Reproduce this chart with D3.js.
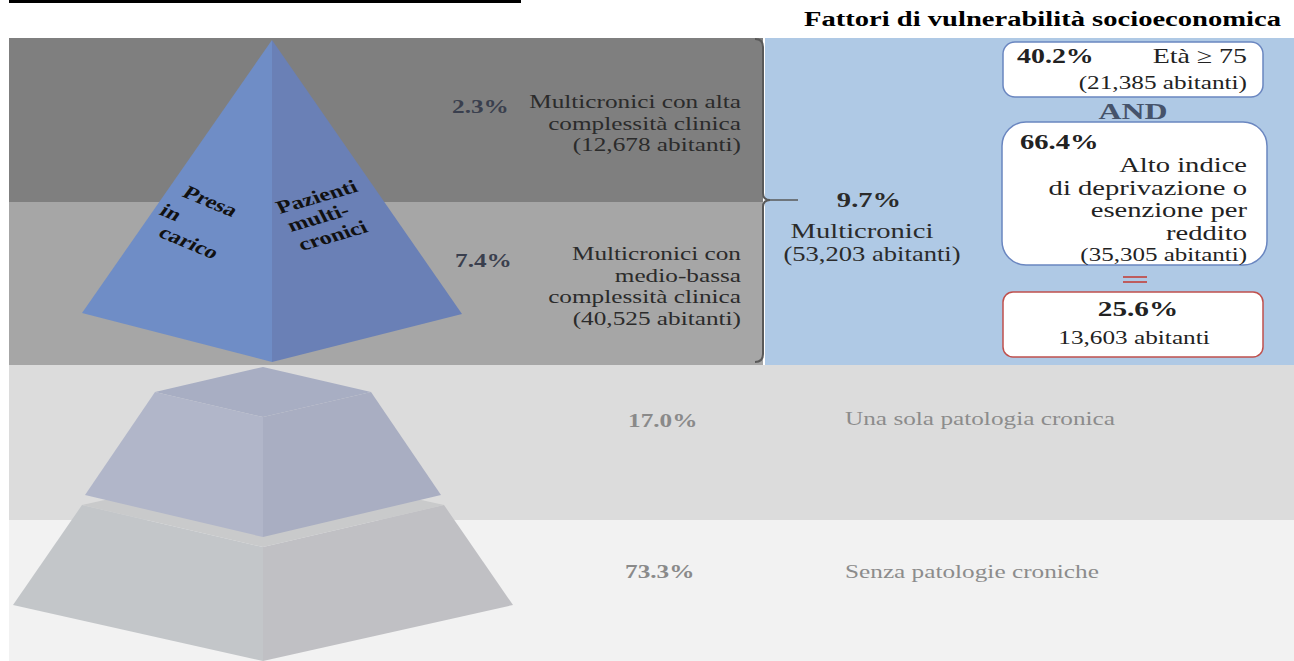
<!DOCTYPE html>
<html>
<head>
<meta charset="utf-8">
<script src="https://cdn.jsdelivr.net/npm/d3@7"></script>
<style>
  body { margin: 0; background: #fff; }
  svg { display: block; font-family: "Liberation Serif", "Times New Roman", serif; }
</style>
</head>
<body>
<div class="canvas"></div>
<script>
// data
const tiers = ["alta", "medioBassa", "una", "senza"];
const tierPct = ["2.3%", "7.4%", "17.0%", "73.3%"];
const tierLabels = [
  ["Multicronici con alta", "complessità clinica", "(12,678 abitanti)"],
  ["Multicronici con", "medio-bassa", "complessità clinica", "(40,525 abitanti)"],
  ["Una sola patologia cronica"],
  ["Senza patologie croniche"]
];
const multiPct = "9.7%";
const multiLabel = ["Multicronici", "(53,203 abitanti)"];
const factorTitle = "Fattori di vulnerabilità socioeconomica";
const factorAge = { pct: "40.2%", label: "Età ≥ 75", count: "(21,385 abitanti)" };
const factorDep = { pct: "66.4%", lines: ["Alto indice", "di deprivazione o", "esenzione per", "reddito"], count: "(35,305 abitanti)" };
const factorBoth = { pct: "25.6%", count: "13,603 abitanti" };
const pyramidLeft = ["Presa", "in", "carico"];
const pyramidRight = ["Pazienti", "multi-", "cronici"];

const W = 1294, H = 661;
const K = 1.33; // horizontal stretch of the original picture
const svg = d3.select(".canvas").append("svg").attr("width", W).attr("height", H);

// layout: band edges for each tier
const bandEdges = [38, 202, 365, 520, 661];
const bandColors = ["#7f7f7f", "#a6a6a6", "#dcdcdc", "#f2f2f2"];
const yTop = d3.scaleOrdinal().domain(tiers).range(bandEdges.slice(0, 4));
const yBot = d3.scaleOrdinal().domain(tiers).range(bandEdges.slice(1));

const txt = (x, y, s, size, o = {}) => svg.append("text")
  .attr("transform", `translate(${x},${y}) scale(${o.k || K},1)` + (o.rot ? ` rotate(${o.rot})` : ""))
  .attr("text-anchor", o.anchor || "start")
  .attr("font-size", size)
  .attr("font-weight", o.bold ? "bold" : "normal")
  .attr("fill", o.fill || "#222")
  .text(s);

// top rule
svg.append("line").attr("x1", 9).attr("x2", 521).attr("y1", 1.5).attr("y2", 1.5)
  .attr("stroke", "#000").attr("stroke-width", 3);

// bands
svg.selectAll("rect.band").data(tiers).enter().append("rect")
  .attr("class", "band")
  .attr("x", 9)
  .attr("y", d => yTop(d))
  .attr("width", (d, i) => i < 2 ? 754 : W - 9)
  .attr("height", d => yBot(d) - yTop(d))
  .attr("fill", (d, i) => bandColors[i]);

// blue panel
svg.append("rect").attr("x", 765).attr("y", 38).attr("width", W - 765).attr("height", 327)
  .attr("fill", "#afc9e5");

// pyramid shapes
const line = d3.line();
const poly = (pts, fill) => svg.append("path").attr("d", line(pts) + "Z").attr("fill", fill);
const cx = 263;

// bottom frustum (73.3%)
poly([[82, 505], [cx, 465], [444, 505], [cx, 547]], "#c9cacb");
poly([[82, 505], [cx, 547], [cx, 661], [13, 605]], "#c3c6c9");
poly([[cx, 547], [444, 505], [513, 605], [cx, 661]], "#c0c0c4");
// middle frustum (17%)
poly([[155, 392], [cx, 367], [371, 392], [cx, 417]], "#a8aec3");
poly([[155, 392], [cx, 417], [cx, 537], [85, 495]], "#b1b6c9");
poly([[cx, 417], [371, 392], [441, 495], [cx, 537]], "#a9aec2");
// top pyramid (multicronici)
poly([[272, 40], [272, 362], [82, 313]], "#6f8dc6");
poly([[272, 40], [462, 314], [272, 362]], "#6a80b6");

// pyramid face labels
const plX = [181, 158, 157], plY = [196, 214, 236];
pyramidLeft.forEach((s, i) => txt(plX[i], plY[i], s, 18.5, { bold: true, rot: 29, fill: "#111" }));
const prX = [280, 291, 302], prY = [214, 232, 251];
pyramidRight.forEach((s, i) => txt(prX[i], prY[i], s, 18.5, { bold: true, rot: -21, fill: "#111" }));

// tier percentages and labels
const pctX = [452, 455, 628, 625];
const pctY = [113, 267, 427, 578];
const pctColor = ["#3a3f4e", "#3a3f4e", "#8a8a8a", "#8a8a8a"];
tierPct.forEach((s, i) => txt(pctX[i], pctY[i], s, 19, { bold: true, fill: pctColor[i] }));

const labelY = [108, 260, 425, 578];
tierLabels.forEach((lines, i) => {
  const right = i < 2;
  lines.forEach((s, j) => txt(right ? 741 : 845, labelY[i] + j * 21.7, s, 19,
    { anchor: right ? "end" : "start", fill: right ? "#2b2b2b" : "#8c8c8c" }));
});

// bracket
svg.append("path")
  .attr("d", "M755,39 Q763,39 763,47 L763,193 Q763,200 770,200 Q763,200 763,207 L763,354 Q763,362 755,362")
  .attr("fill", "none").attr("stroke", "#595959").attr("stroke-width", 2);
svg.append("line").attr("x1", 770).attr("x2", 798).attr("y1", 200).attr("y2", 200)
  .attr("stroke", "#595959").attr("stroke-width", 1.5);

// multicronici summary
txt(869, 207, multiPct, 21.5, { anchor: "middle", bold: true, fill: "#2b2b2b" });
txt(862, 238, multiLabel[0], 21.5, { anchor: "middle", fill: "#2b2b2b" });
txt(872, 261, multiLabel[1], 20, { anchor: "middle", fill: "#2b2b2b" });

// factors title
txt(1281, 26, factorTitle, 21.5, { anchor: "end", bold: true, fill: "#000" });

// boxes
const box = (x, y, w, h, r, stroke) => svg.append("rect")
  .attr("x", x).attr("y", y).attr("width", w).attr("height", h).attr("rx", r)
  .attr("fill", "#fff").attr("stroke", stroke).attr("stroke-width", 1.5);

box(1003, 42, 260, 55, 12, "#6a86c0");
txt(1017, 63, factorAge.pct, 21, { bold: true });
txt(1247, 63, factorAge.label, 21, { anchor: "end" });
txt(1247, 89, factorAge.count, 19, { anchor: "end" });

txt(1133, 119, "AND", 24, { anchor: "middle", bold: true, fill: "#46536b" });

box(1002, 122, 265, 143, 24, "#6a86c0");
txt(1020, 149, factorDep.pct, 21.5, { bold: true });
factorDep.lines.forEach((s, i) => txt(1247, 172 + i * 22.5, s, 20, { anchor: "end", k: 1.43 }));
txt(1247, 261, factorDep.count, 18, { anchor: "end", k: 1.39 });

// equals sign
[277, 282].forEach(y => svg.append("line").attr("x1", 1123).attr("x2", 1147).attr("y1", y).attr("y2", y)
  .attr("stroke", "#c0504d").attr("stroke-width", 1.8));

box(1003, 292, 260, 65, 10, "#c0504d");
txt(1138, 316, factorBoth.pct, 22, { anchor: "middle", bold: true });
txt(1134, 344, factorBoth.count, 19, { anchor: "middle" });
</script>
</body>
</html>
